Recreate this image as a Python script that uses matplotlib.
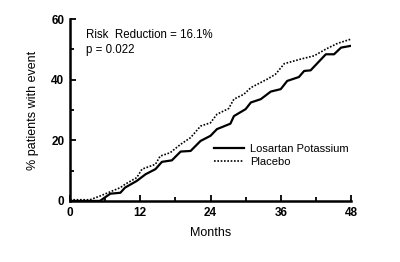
import matplotlib.pyplot as plt

plt.rcParams['font.family'] = ['Liberation Sans', 'DejaVu Sans']

# Losartan Potassium (solid)
los_months = [0, 5.1, 6.9, 8.6, 9.4, 11.4, 12.9, 14.6, 15.7, 17.4, 18.9, 20.6, 22.3,
              24.0, 25.1, 27.4, 28.0, 30.0, 30.9, 32.6, 34.3, 36.0, 37.1, 39.1, 40.0,
              41.1, 43.7, 45.1, 46.3, 48.3]
los_pct = [0, 0, 2.4, 2.7, 4.4, 6.6, 8.8, 10.5, 12.9, 13.4, 16.3, 16.5, 19.8,
           21.5, 23.7, 25.5, 28.0, 30.3, 32.5, 33.6, 36.1, 36.9, 39.6, 40.9, 42.9,
           43.1, 48.4, 48.4, 50.6, 51.3]

# Placebo (dotted)
pla_months = [0, 3.4, 5.1, 8.6, 9.4, 11.4, 12.3, 14.6, 15.4, 17.1, 18.9, 20.6, 22.3,
              24.0, 25.1, 27.1, 28.0, 29.7, 30.9, 33.7, 35.1, 36.6, 39.4, 41.7, 43.7,
              45.7, 48.0]
pla_pct = [0.4, 0.4, 1.6, 4.4, 5.5, 7.7, 10.5, 12.1, 14.8, 15.9, 18.7, 20.9, 24.7,
           25.8, 28.6, 30.5, 33.6, 35.2, 37.4, 40.2, 41.8, 45.3, 46.8, 47.9, 50.1,
           52.0, 53.4]

fig = plt.figure(figsize=(4, 2.62), dpi=100)
ax = fig.add_axes([0.175, 0.233, 0.7025, 0.694])

ax.plot(los_months, los_pct, color='black', linewidth=1.6, label='Losartan Potassium')
ax.plot(pla_months, pla_pct, color='black', linewidth=1.2, linestyle=(0, (1, 1)), label='Placebo')

ax.set_xlim(0, 48)
ax.set_ylim(0, 60)
ax.set_xticks([0, 12, 24, 36, 48])
ax.set_xticks([6, 18, 30, 42], minor=True)
ax.set_yticks([0, 20, 40, 60])
ax.set_yticks([10, 30, 50], minor=True)
ax.tick_params(which='both', direction='in', width=1.3, labelsize=8.5)
ax.tick_params(which='major', length=4, pad=4)
ax.tick_params(which='minor', length=3)
for lab in ax.get_xticklabels() + ax.get_yticklabels():
    lab.set_fontweight('bold')

ax.spines['top'].set_visible(False)
ax.spines['right'].set_visible(False)
ax.spines['left'].set_linewidth(1.8)
ax.spines['bottom'].set_linewidth(1.8)

ax.set_xlabel('Months', fontsize=9, labelpad=6)
ax.set_ylabel('% patients with event', fontsize=9, labelpad=9)

ax.text(0.057, 0.915, 'Risk  Reduction = 16.1%', transform=ax.transAxes, fontsize=8.3, va='center')
ax.text(0.057, 0.83, 'p = 0.022', transform=ax.transAxes, fontsize=8.3, va='center')

ax.legend(loc='lower left', bbox_to_anchor=(0.495, 0.165), frameon=False, fontsize=8,
          handlelength=2.7, handletextpad=0.55, labelspacing=0.25, borderaxespad=0)

plt.savefig('out.png', dpi=100)
